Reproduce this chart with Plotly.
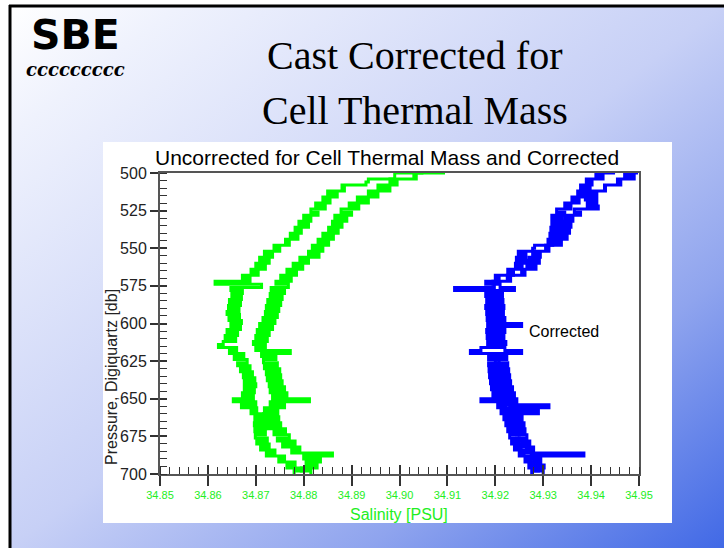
import base64
import plotly.graph_objects as go

W, H = 724, 548


def fx(px):
    return px / W


def fy(py):
    return 1 - py / H


# ---------------- data ----------------
pressure = list(range(500, 701, 2))  # db

uncorrected_a = [
    34.9050, 34.8990, 34.8990, 34.8935, 34.8930, 34.8880, 34.8885, 34.8850, 34.8870, 34.8840,
    34.8855, 34.8825, 34.8845, 34.8815, 34.8830, 34.8800, 34.8815, 34.8790, 34.8810, 34.8782,
    34.8795, 34.8772, 34.8788, 34.8762, 34.8770, 34.8738, 34.8750, 34.8718, 34.8735, 34.8708,
    34.8728, 34.8700, 34.8720, 34.8690, 34.8705, 34.8672, 34.8688, 34.8615, 34.8712, 34.8648,
    34.8672, 34.8650, 34.8670, 34.8645, 34.8668, 34.8643, 34.8665, 34.8640, 34.8666, 34.8644,
    34.8670, 34.8648, 34.8668, 34.8640, 34.8662, 34.8636, 34.8658, 34.8632, 34.8622, 34.8660,
    34.8645, 34.8675, 34.8655, 34.8682, 34.8662, 34.8688, 34.8668, 34.8693, 34.8674, 34.8698,
    34.8676, 34.8700, 34.8676, 34.8697, 34.8672, 34.8695, 34.8653, 34.8700, 34.8670, 34.8702,
    34.8690, 34.8720, 34.8698, 34.8720, 34.8697, 34.8721, 34.8698, 34.8720, 34.8699, 34.8724,
    34.8702, 34.8728, 34.8710, 34.8740, 34.8722, 34.8760, 34.8748, 34.8782, 34.8765, 34.8795,
    34.8780,
]

uncorrected_b = [
    34.9095, 34.9030, 34.9035, 34.8980, 34.8995, 34.8955, 34.8980, 34.8935, 34.8955, 34.8912,
    34.8935, 34.8895, 34.8915, 34.8878, 34.8900, 34.8865, 34.8890, 34.8860, 34.8880, 34.8852,
    34.8872, 34.8840, 34.8862, 34.8830, 34.8852, 34.8818, 34.8840, 34.8810, 34.8832, 34.8792,
    34.8810, 34.8778, 34.8798, 34.8765, 34.8785, 34.8752, 34.8774, 34.8742, 34.8768, 34.8732,
    34.8760, 34.8730, 34.8755, 34.8725, 34.8752, 34.8722, 34.8748, 34.8720, 34.8745, 34.8715,
    34.8740, 34.8708, 34.8735, 34.8703, 34.8728, 34.8700, 34.8724, 34.8695, 34.8720, 34.8700,
    34.8772, 34.8712, 34.8742, 34.8716, 34.8745, 34.8718, 34.8750, 34.8722, 34.8752, 34.8724,
    34.8755, 34.8728, 34.8760, 34.8730, 34.8765, 34.8735, 34.8812, 34.8730, 34.8760, 34.8718,
    34.8746, 34.8716, 34.8748, 34.8720, 34.8752, 34.8726, 34.8762, 34.8738, 34.8770, 34.8745,
    34.8782, 34.8756, 34.8792, 34.8775, 34.8860, 34.8800, 34.8835, 34.8805, 34.8828, 34.8795,
    34.8815,
]

corrected_a = [
    34.9450, 34.9410, 34.9425, 34.9390, 34.9402, 34.9378, 34.9398, 34.9372, 34.9390, 34.9360,
    34.9375, 34.9345, 34.9358, 34.9328, 34.9345, 34.9318, 34.9340, 34.9318, 34.9340, 34.9316,
    34.9338, 34.9314, 34.9335, 34.9310, 34.9320, 34.9282, 34.9278, 34.9248, 34.9264, 34.9244,
    34.9268, 34.9242, 34.9256, 34.9226, 34.9238, 34.9200, 34.9208, 34.9180, 34.9198, 34.9115,
    34.9200, 34.9180, 34.9205, 34.9182, 34.9204, 34.9180, 34.9206, 34.9182, 34.9207, 34.9183,
    34.9210, 34.9184, 34.9208, 34.9182, 34.9206, 34.9183, 34.9208, 34.9184, 34.9207, 34.9170,
    34.9148, 34.9205, 34.9186, 34.9208, 34.9186, 34.9210, 34.9187, 34.9212, 34.9188, 34.9212,
    34.9190, 34.9214, 34.9192, 34.9218, 34.9195, 34.9222, 34.9170, 34.9222, 34.9205, 34.9232,
    34.9212, 34.9236, 34.9218, 34.9240, 34.9222, 34.9244, 34.9226, 34.9247, 34.9230, 34.9250,
    34.9234, 34.9254, 34.9240, 34.9260, 34.9250, 34.9275, 34.9262, 34.9285, 34.9270, 34.9290,
    34.9276,
]

corrected_b = [
    34.9498, 34.9470, 34.9490, 34.9455, 34.9462, 34.9428, 34.9430, 34.9392, 34.9412, 34.9388,
    34.9412, 34.9392, 34.9415, 34.9365, 34.9378, 34.9345, 34.9362, 34.9336, 34.9358, 34.9332,
    34.9355, 34.9330, 34.9350, 34.9324, 34.9338, 34.9305, 34.9312, 34.9278, 34.9294, 34.9270,
    34.9292, 34.9266, 34.9285, 34.9255, 34.9262, 34.9225, 34.9232, 34.9195, 34.9210, 34.9240,
    34.9198, 34.9215, 34.9192, 34.9216, 34.9194, 34.9218, 34.9193, 34.9217, 34.9195, 34.9220,
    34.9196, 34.9255, 34.9198, 34.9220, 34.9195, 34.9218, 34.9196, 34.9222, 34.9197, 34.9220,
    34.9255, 34.9198, 34.9224, 34.9200, 34.9226, 34.9201, 34.9228, 34.9203, 34.9230, 34.9205,
    34.9232, 34.9208, 34.9236, 34.9212, 34.9240, 34.9218, 34.9245, 34.9222, 34.9312, 34.9230,
    34.9290, 34.9234, 34.9256, 34.9236, 34.9260, 34.9240, 34.9262, 34.9244, 34.9266, 34.9250,
    34.9272, 34.9255, 34.9280, 34.9265, 34.9385, 34.9275, 34.9295, 34.9280, 34.9302, 34.9283,
    34.9300,
]

x_range = [34.85, 34.95]
y_range = [700, 500]

GREEN = "#00ff00"
BLUE = "#0000ff"
SANS = "Liberation Sans, Arial, sans-serif"
SERIF = "Liberation Serif, Times New Roman, serif"

fig = go.Figure()
for series, color in [(uncorrected_a, GREEN), (uncorrected_b, GREEN),
                      (corrected_a, BLUE), (corrected_b, BLUE)]:
    fig.add_trace(go.Scatter(x=series, y=pressure, mode="lines",
                             line=dict(color=color, width=3, shape="hv"),
                             showlegend=False, hoverinfo="skip"))
# empty trace to register the overlay axes used for inside major ticks
fig.add_trace(go.Scatter(x=[], y=[], xaxis="x2", yaxis="y2", showlegend=False))

# ---------------- background ----------------
svg = (
    '<svg xmlns="http://www.w3.org/2000/svg" width="715" height="543" '
    'viewBox="0 0 715 543" preserveAspectRatio="none">'
    '<defs><linearGradient id="g" x1="0" y1="0" x2="1" y2="1">'
    '<stop offset="0" stop-color="#ffffff"/>'
    '<stop offset="0.12" stop-color="#eff2fd"/>'
    '<stop offset="0.5" stop-color="#c7d0f6"/>'
    '<stop offset="0.75" stop-color="#8fa4ee"/>'
    '<stop offset="1" stop-color="#4169e6"/>'
    '</linearGradient></defs>'
    '<rect x="0" y="0" width="715" height="543" fill="url(#g)"/></svg>'
)
src = "data:image/svg+xml;base64," + base64.b64encode(svg.encode()).decode()

axis_line = "#555555"
tick_col = "#333333"


def label(text, x, y, size, color="black", family=SANS, **kw):
    return dict(text=text, x=fx(x), y=fy(y), xref="paper", yref="paper",
                xanchor=kw.pop("xanchor", "center"), yanchor=kw.pop("yanchor", "middle"),
                showarrow=False, font=dict(family=family, size=size, color=color), **kw)


logo_text = ("<span style='font-size:41px;font-family:DejaVu Sans'><b>SBE</b></span>"
             "<br><span style='font-size:18px'><b><i>ccccccccc</i></b></span>")

fig.update_layout(
    width=W, height=H, autosize=False,
    margin=dict(l=0, r=0, t=0, b=0, pad=0, autoexpand=False),
    paper_bgcolor="white",
    plot_bgcolor="rgba(0,0,0,0)",
    images=[dict(source=src, xref="paper", yref="paper", x=fx(9), y=fy(5),
                 sizex=fx(724) - fx(9), sizey=fy(5) - fy(548),
                 xanchor="left", yanchor="top", sizing="stretch", layer="below")],
    xaxis=dict(domain=[fx(160), fx(639)], range=x_range, anchor="y",
               tick0=34.85, dtick=0.01, tickformat=".2f",
               ticks="outside", ticklen=10, tickwidth=1.5, tickcolor=tick_col,
               minor=dict(dtick=0.002, ticks="inside", ticklen=7, tickwidth=1.2,
                          tickcolor=tick_col, showgrid=False),
               showline=True, linecolor=axis_line, linewidth=2, mirror=True,
               showgrid=False, zeroline=False,
               tickfont=dict(family=SANS, size=11, color="#22ee22")),
    yaxis=dict(domain=[fy(474), fy(173)], range=y_range, anchor="x",
               tick0=500, dtick=25,
               ticks="outside", ticklen=8, tickwidth=1.5, tickcolor=tick_col,
               minor=dict(dtick=5, ticks="inside", ticklen=7, tickwidth=1.2,
                          tickcolor=tick_col, showgrid=False),
               showline=True, linecolor=axis_line, linewidth=2, mirror=True,
               showgrid=False, zeroline=False,
               tickfont=dict(family=SANS, size=16, color="#222222")),
    xaxis2=dict(overlaying="x", anchor="y", range=x_range, tick0=34.85, dtick=0.01,
                ticks="inside", ticklen=9, tickwidth=1.5, tickcolor=tick_col,
                showticklabels=False, showline=False, showgrid=False, zeroline=False),
    yaxis2=dict(overlaying="y", anchor="x", range=y_range, tick0=500, dtick=25,
                ticks="inside", ticklen=7, tickwidth=1.5, tickcolor=tick_col,
                showticklabels=False, showline=False, showgrid=False, zeroline=False),
    shapes=[
        dict(type="rect", xref="paper", yref="paper", x0=fx(103), x1=fx(672),
             y0=fy(523), y1=fy(142), fillcolor="white", line=dict(width=0), layer="below"),
        dict(type="line", xref="paper", yref="paper", x0=fx(9), x1=fx(724),
             y0=fy(6), y1=fy(6), line=dict(color="black", width=3), layer="above"),
        dict(type="line", xref="paper", yref="paper", x0=fx(10), x1=fx(10),
             y0=fy(5), y1=fy(548), line=dict(color="black", width=3), layer="above"),
    ],
    annotations=[
        label("Cast Corrected for", 414, 55, 40, family=SERIF),
        label("Cell Thermal Mass", 415, 110, 40, family=SERIF),
        label(logo_text, 75, 46, 21, family="DejaVu Serif"),
        label("Uncorrected for Cell Thermal Mass and Corrected", 387, 157, 21),
        dict(text="Corrected", x=34.9266, y=605, xref="x", yref="y",
             xanchor="left", yanchor="middle", showarrow=False,
             font=dict(family=SANS, size=16, color="black")),
        label("Salinity [PSU]", 399, 514, 16, color="#22ee22"),
        label("Pressure, Digiquartz [db]", 111, 377, 16, color="#222222", textangle=-90),
    ],
)

fig.write_html("out.html")
